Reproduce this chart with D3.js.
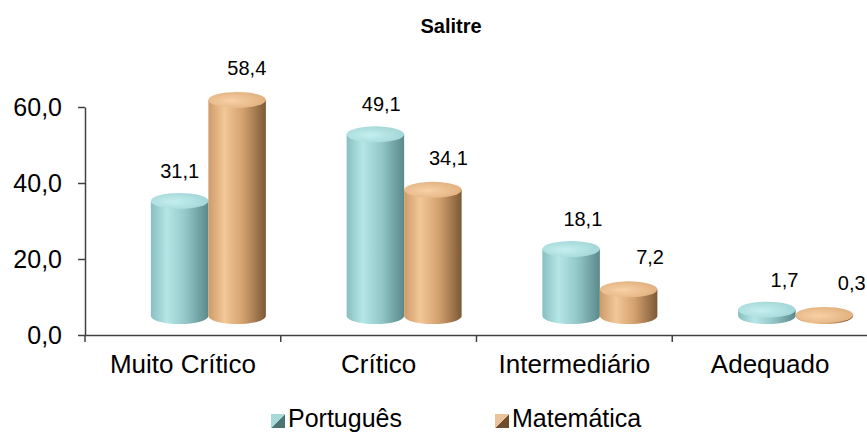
<!DOCTYPE html>
<html>
<head>
<meta charset="utf-8">
<script src="https://cdn.jsdelivr.net/npm/d3@7"></script>
<style>
  html, body { margin: 0; padding: 0; background: #fff; }
  svg { display: block; font-family: "Liberation Sans", Arial, sans-serif; }
</style>
</head>
<body>
<svg id="chart" width="867" height="432"></svg>
<script>
// ---- data ----
const title = "Salitre";
const categories = ["Muito Crítico", "Crítico", "Intermediário", "Adequado"];
const seriesNames = ["Português", "Matemática"];
const portugues = [31.1, 49.1, 18.1, 1.7];
const matematica = [58.4, 34.1, 7.2, 0.3];
const yTicks = [0, 20, 40, 60];

// ---- styles ----
const palette = {
  "Português": { body: ["#88bfc0", "#b6e6e6", "#93c8c9", "#5b898a"], top: ["#c4efef", "#9fd3d4"], mk: ["#a8dada", "#4d7373"] },
  "Matemática": { body: ["#cd9b69", "#f3c797", "#d4a16e", "#7c5936"], top: ["#f7d1a6", "#dfac79"], mk: ["#e9c39b", "#6e4c2c"] }
};

const svg = d3.select("#chart");
const defs = svg.append("defs");
const fmt = v => v.toFixed(1).replace(".", ",");

const plotLeft = 85, plotRight = 868, plotTop = 107, plotBottom = 335;

const y = d3.scaleLinear().domain([0, 60]).range([plotBottom, plotTop]);
// 3D floor projection of the cylinders
const y3 = d3.scaleLinear().domain([0, 60]).range([316, 94]);
const x = d3.scaleBand().domain(categories).range([plotLeft, plotRight]).padding(0);
const xs = d3.scaleBand().domain(seriesNames).range([-32, 83]).padding(0);
const ry = 8;
const cxOf = (c, s) => x(c) + x.bandwidth() / 2 + xs(s);

// gradients
seriesNames.forEach((s, i) => {
  const p = palette[s];
  const g = defs.append("linearGradient").attr("id", "body" + i).attr("x1", 0).attr("x2", 1).attr("y1", 0).attr("y2", 0);
  [[0, p.body[0]], [0.28, p.body[1]], [0.6, p.body[2]], [1, p.body[3]]].forEach(([o, c]) =>
    g.append("stop").attr("offset", o).attr("stop-color", c));
  const t = defs.append("radialGradient").attr("id", "top" + i).attr("cx", 0.4).attr("cy", 0.55).attr("r", 0.7);
  t.append("stop").attr("offset", 0).attr("stop-color", p.top[0]);
  t.append("stop").attr("offset", 1).attr("stop-color", p.top[1]);
  const m = defs.append("linearGradient").attr("id", "mk" + i).attr("x1", 0).attr("x2", 1).attr("y1", 0).attr("y2", 1);
  m.append("stop").attr("offset", 0).attr("stop-color", p.mk[0]);
  m.append("stop").attr("offset", 0.5).attr("stop-color", p.mk[0]);
  m.append("stop").attr("offset", 0.5).attr("stop-color", p.mk[1]);
  m.append("stop").attr("offset", 1).attr("stop-color", p.mk[1]);
});

// title
svg.append("text").attr("x", 451).attr("y", 33).attr("text-anchor", "middle")
  .attr("font-size", 20).attr("font-weight", "bold").attr("fill", "#000").text(title);

// y axis
const yAxis = svg.append("g").attr("transform", `translate(${plotLeft},0)`)
  .call(d3.axisLeft(y).tickValues(yTicks).tickFormat(fmt).tickSize(7).tickSizeOuter(0).tickPadding(16));
yAxis.attr("font-size", 25).attr("font-family", "Liberation Sans, Arial, sans-serif");
yAxis.select(".domain").attr("stroke", "#404040").attr("stroke-width", 1.5);
yAxis.selectAll(".tick line").attr("stroke", "#404040").attr("stroke-width", 1.5);
yAxis.selectAll(".tick text").style("font-size", "25px").attr("fill", "#000");

// x axis
const xAxis = svg.append("g").attr("transform", `translate(0,${plotBottom})`)
  .call(d3.axisBottom(x).tickSize(0).tickSizeOuter(0).tickPadding(20));
xAxis.attr("font-size", 26).attr("font-family", "Liberation Sans, Arial, sans-serif");
xAxis.select(".domain").attr("stroke", "#404040").attr("stroke-width", 1.5);
xAxis.selectAll(".tick text").style("font-size", "26px").attr("fill", "#000");
const bounds = categories.map(c => x(c)).concat([plotRight]);
xAxis.selectAll("line.bound").data(bounds).enter().append("line").attr("class", "bound")
  .attr("x1", d => d).attr("x2", d => d).attr("y1", 0).attr("y2", 7)
  .attr("stroke", "#404040").attr("stroke-width", 1.5);

// cylinders
const series = [portugues, matematica];
const labelShift = [0, 8];
const labelGap = [15, 17];
seriesNames.forEach((s, si) => {
  const g = svg.append("g");
  const data = series[si].map((v, ci) => ({ v, c: categories[ci] }));
  const w = xs.bandwidth();
  const cyl = g.selectAll("g.cyl").data(data).enter().append("g").attr("class", "cyl");
  cyl.append("path")
    .attr("d", d => {
      const x0 = cxOf(d.c, s), x1 = x0 + w;
      const yb = y3(0), yt = y3(d.v);
      return `M${x0},${yt} L${x0},${yb} A${w / 2},${ry} 0 0 0 ${x1},${yb} L${x1},${yt} Z`;
    })
    .attr("fill", `url(#body${si})`);
  cyl.append("ellipse")
    .attr("cx", d => cxOf(d.c, s) + w / 2)
    .attr("cy", d => y3(d.v))
    .attr("rx", w / 2).attr("ry", ry)
    .attr("fill", `url(#top${si})`);
  // value labels
  g.selectAll("text").data(data).enter().append("text")
    .attr("x", d => {
      const cx = cxOf(d.c, s) + w / 2;
      return cx + labelShift[si] + 0.03 * (cx - 180);
    })
    .attr("y", d => y3(d.v) - ry - labelGap[si])
    .attr("text-anchor", "middle").attr("font-size", 20).attr("fill", "#000")
    .text(d => fmt(d.v));
});

// legend
const legendX = [271, 495];
const lg = svg.append("g");
seriesNames.forEach((s, i) => {
  lg.append("rect").attr("x", legendX[i]).attr("y", 414).attr("width", 14).attr("height", 14)
    .attr("fill", `url(#mk${i})`);
  lg.append("text").attr("x", legendX[i] + 17).attr("y", 427).attr("font-size", 25).attr("fill", "#000").text(s);
});
</script>
</body>
</html>
